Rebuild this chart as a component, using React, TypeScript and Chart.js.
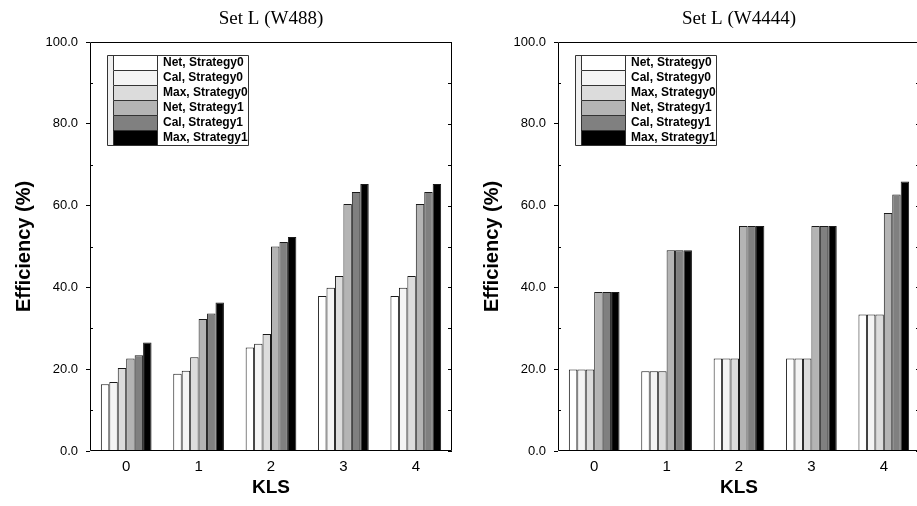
import React, { useEffect, useRef } from "react";
import { Chart, registerables } from "chart.js";

Chart.register(...registerables);

const categories = ["0", "1", "2", "3", "4"];
const seriesLabels = [
  "Net, Strategy0",
  "Cal, Strategy0",
  "Max, Strategy0",
  "Net, Strategy1",
  "Cal, Strategy1",
  "Max, Strategy1",
];
const seriesColors = ["#ffffff", "#f4f4f4", "#dcdcdc", "#b4b4b4", "#808080", "#000000"];

// Set L (W488)
const w488Net0 = [16.3, 18.9, 25.3, 37.9, 37.9];
const w488Cal0 = [16.9, 19.6, 26.2, 39.9, 39.9];
const w488Max0 = [20.3, 22.9, 28.6, 42.8, 42.8];
const w488Net1 = [22.6, 32.3, 50.0, 60.4, 60.4];
const w488Cal1 = [23.4, 33.6, 51.1, 63.3, 63.3];
const w488Max1 = [26.5, 36.3, 52.3, 65.3, 65.3];

// Set L (W4444)
const w4444Net0 = [19.9, 19.5, 22.6, 22.6, 33.4];
const w4444Cal0 = [19.9, 19.5, 22.6, 22.6, 33.4];
const w4444Max0 = [19.9, 19.5, 22.6, 22.6, 33.4];
const w4444Net1 = [38.9, 49.1, 55.0, 55.0, 58.2];
const w4444Cal1 = [38.9, 49.1, 55.0, 55.0, 62.7];
const w4444Max1 = [38.9, 49.1, 55.0, 55.0, 65.9];

const yMin = 0;
const yMax = 100;
const yStep = 20;
const yMinorStep = 10;

const SANS = "'Liberation Sans', Arial, sans-serif";
const SERIF = "'Liberation Serif', 'Times New Roman', serif";

const framePlugin = {
  id: "frameAndLegend",
  afterDatasetsDraw(chart: any) {
    const { ctx, chartArea, scales } = chart;
    const { left, right, top, bottom } = chartArea;
    const y = scales.y;
    ctx.save();
    ctx.strokeStyle = "#000";
    ctx.lineWidth = 1;
    ctx.beginPath();
    ctx.rect(left + 0.5, top + 0.5, right - left - 1, bottom - top - 1);
    ctx.stroke();
    for (let v = yMin; v <= yMax; v += yMinorStep) {
      const py = Math.round(y.getPixelForValue(v)) + 0.5;
      ctx.beginPath();
      ctx.moveTo(right - 4, py);
      ctx.lineTo(right, py);
      if (v % yStep !== 0) {
        ctx.moveTo(left, py);
        ctx.lineTo(left + 3, py);
      }
      ctx.stroke();
    }
    const lx = left + 17;
    const ly = top + 13;
    const rowH = 15;
    const stripW = 6;
    const swW = 44;
    const totalW = 141;
    const ds = chart.data.datasets;
    const totalH = rowH * ds.length;
    ctx.fillStyle = "#ffffff";
    ctx.fillRect(lx, ly, totalW, totalH);
    ctx.fillStyle = "#f0f0f0";
    ctx.fillRect(lx, ly, stripW, totalH);
    ds.forEach((d: any, i: number) => {
      const ry = ly + i * rowH;
      ctx.fillStyle = d.backgroundColor;
      ctx.fillRect(lx + stripW, ry, swW, rowH);
      ctx.strokeStyle = "#333";
      ctx.beginPath();
      ctx.rect(lx + stripW + 0.5, ry + 0.5, swW, rowH);
      ctx.stroke();
      ctx.fillStyle = "#000";
      ctx.font = "bold 12px " + SANS;
      ctx.textBaseline = "middle";
      ctx.textAlign = "left";
      ctx.fillText(d.label, lx + stripW + swW + 6, ry + rowH / 2 + 0.5);
    });
    ctx.strokeStyle = "#333";
    ctx.beginPath();
    ctx.rect(lx + 0.5, ly + 0.5, totalW, totalH);
    ctx.stroke();
    ctx.restore();
  },
};

function Panel(props: { title: string; series: number[][]; left: number }) {
  const ref = useRef<HTMLCanvasElement>(null);
  useEffect(() => {
    if (!ref.current) return;
    const chart = new Chart(ref.current, {
      type: "bar",
      data: {
        labels: categories,
        datasets: props.series.map((vals, i) => ({
          label: seriesLabels[i],
          data: vals,
          backgroundColor: seriesColors[i],
          borderColor: "#1a1a1a",
          borderWidth: 1,
          barPercentage: 1,
          categoryPercentage: 0.7,
        })),
      },
      options: {
        responsive: false,
        animation: false,
        devicePixelRatio: 1,
        layout: { padding: { top: 0, left: 0, right: 6, bottom: 0 } },
        plugins: {
          legend: { display: false },
          tooltip: { enabled: false },
          title: {
            display: true,
            text: props.title,
            fullSize: false,
            color: "#000",
            font: { family: SERIF, size: 19, weight: "normal", lineHeight: 1.2 },
            padding: { top: 8, bottom: 11.2 },
          },
        },
        scales: {
          x: {
            grid: { display: false, drawTicks: false },
            border: { display: false },
            ticks: { color: "#000", font: { family: SANS, size: 15 }, padding: 7 },
            title: {
              display: true,
              text: "KLS",
              color: "#000",
              font: { family: SANS, size: 19, weight: "bold", lineHeight: 1.2 },
              padding: { top: 0, bottom: 7 },
            },
            afterFit: (s: any) => {
              s.height = 55;
            },
          },
          y: {
            min: yMin,
            max: yMax,
            grid: { drawOnChartArea: false, tickLength: 4, color: "#000", tickColor: "#000" },
            border: { display: false },
            ticks: {
              stepSize: yStep,
              color: "#000",
              font: { family: SANS, size: 13 },
              padding: 8,
              callback: (v: any) => Number(v).toFixed(1),
            },
            title: {
              display: true,
              text: "Efficiency (%)",
              color: "#000",
              font: { family: SANS, size: 20, weight: "bold", lineHeight: 1.2 },
              padding: { top: 12, bottom: 0 },
            },
            afterFit: (s: any) => {
              s.width = 90;
            },
          },
        },
      },
      plugins: [framePlugin],
    } as any);
    return () => chart.destroy();
  }, []);
  return (
    <div style={{ position: "absolute", left: props.left, top: 0, width: 458, height: 506 }}>
      <canvas ref={ref} width={458} height={506} style={{ display: "block" }} />
    </div>
  );
}

export default function App() {
  return (
    <div
      style={{
        position: "fixed",
        left: 0,
        top: 0,
        width: 917,
        height: 506,
        overflow: "hidden",
        background: "#fff",
      }}
    >
      <Panel
        title="Set L (W488)"
        series={[w488Net0, w488Cal0, w488Max0, w488Net1, w488Cal1, w488Max1]}
        left={0}
      />
      <Panel
        title="Set L (W4444)"
        series={[w4444Net0, w4444Cal0, w4444Max0, w4444Net1, w4444Cal1, w4444Max1]}
        left={468}
      />
    </div>
  );
}
